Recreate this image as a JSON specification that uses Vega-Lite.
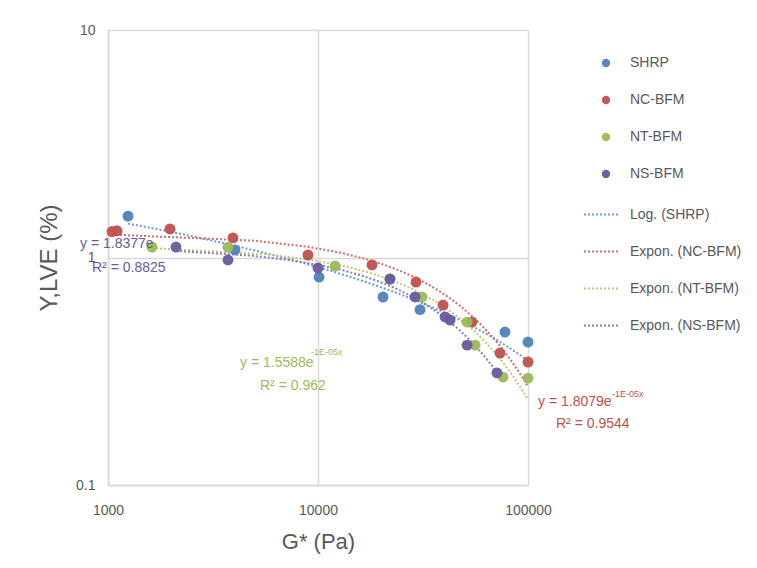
{
  "$schema": "https://vega.github.io/schema/vega-lite/v6.json",
  "width": 420,
  "height": 455,
  "autosize": "none",
  "padding": {"left": 108, "top": 30, "right": 229, "bottom": 83},
  "background": "white",
  "config": {"view": {"stroke": null}, "font": "Liberation Sans"},
  "datasets": {
    "points": [
      {"series": "SHRP", "trend": "Log. (SHRP)", "x": 1245, "y": 1.52},
      {"series": "SHRP", "trend": "Log. (SHRP)", "x": 4025, "y": 1.08},
      {"series": "SHRP", "trend": "Log. (SHRP)", "x": 10116, "y": 0.82},
      {"series": "SHRP", "trend": "Log. (SHRP)", "x": 20400, "y": 0.67},
      {"series": "SHRP", "trend": "Log. (SHRP)", "x": 30600, "y": 0.59},
      {"series": "SHRP", "trend": "Log. (SHRP)", "x": 77700, "y": 0.47},
      {"series": "SHRP", "trend": "Log. (SHRP)", "x": 100000, "y": 0.425},
      {"series": "NC-BFM", "trend": "Expon. (NC-BFM)", "x": 1045, "y": 1.3},
      {"series": "NC-BFM", "trend": "Expon. (NC-BFM)", "x": 1104, "y": 1.31},
      {"series": "NC-BFM", "trend": "Expon. (NC-BFM)", "x": 1973, "y": 1.335},
      {"series": "NC-BFM", "trend": "Expon. (NC-BFM)", "x": 3936, "y": 1.22},
      {"series": "NC-BFM", "trend": "Expon. (NC-BFM)", "x": 8960, "y": 1.025},
      {"series": "NC-BFM", "trend": "Expon. (NC-BFM)", "x": 18080, "y": 0.927},
      {"series": "NC-BFM", "trend": "Expon. (NC-BFM)", "x": 29290, "y": 0.78},
      {"series": "NC-BFM", "trend": "Expon. (NC-BFM)", "x": 39380, "y": 0.618},
      {"series": "NC-BFM", "trend": "Expon. (NC-BFM)", "x": 54100, "y": 0.52},
      {"series": "NC-BFM", "trend": "Expon. (NC-BFM)", "x": 73540, "y": 0.38},
      {"series": "NC-BFM", "trend": "Expon. (NC-BFM)", "x": 100000, "y": 0.347},
      {"series": "NT-BFM", "trend": "Expon. (NT-BFM)", "x": 1620, "y": 1.11},
      {"series": "NT-BFM", "trend": "Expon. (NT-BFM)", "x": 3727, "y": 1.11},
      {"series": "NT-BFM", "trend": "Expon. (NT-BFM)", "x": 12050, "y": 0.917},
      {"series": "NT-BFM", "trend": "Expon. (NT-BFM)", "x": 22020, "y": 0.804},
      {"series": "NT-BFM", "trend": "Expon. (NT-BFM)", "x": 31270, "y": 0.671},
      {"series": "NT-BFM", "trend": "Expon. (NT-BFM)", "x": 51260, "y": 0.52},
      {"series": "NT-BFM", "trend": "Expon. (NT-BFM)", "x": 55940, "y": 0.412},
      {"series": "NT-BFM", "trend": "Expon. (NT-BFM)", "x": 76060, "y": 0.298},
      {"series": "NT-BFM", "trend": "Expon. (NT-BFM)", "x": 100000, "y": 0.295},
      {"series": "NS-BFM", "trend": "Expon. (NS-BFM)", "x": 2107, "y": 1.112},
      {"series": "NS-BFM", "trend": "Expon. (NS-BFM)", "x": 3727, "y": 0.975},
      {"series": "NS-BFM", "trend": "Expon. (NS-BFM)", "x": 10000, "y": 0.899},
      {"series": "NS-BFM", "trend": "Expon. (NS-BFM)", "x": 22020, "y": 0.804},
      {"series": "NS-BFM", "trend": "Expon. (NS-BFM)", "x": 28970, "y": 0.671},
      {"series": "NS-BFM", "trend": "Expon. (NS-BFM)", "x": 40270, "y": 0.548},
      {"series": "NS-BFM", "trend": "Expon. (NS-BFM)", "x": 42540, "y": 0.531},
      {"series": "NS-BFM", "trend": "Expon. (NS-BFM)", "x": 51260, "y": 0.412},
      {"series": "NS-BFM", "trend": "Expon. (NS-BFM)", "x": 71190, "y": 0.311}
    ],
    "notes": [
      {"series": "NS-BFM", "note": "y = 1.8377e", "kind": "main", "x": 736, "y": 1.146},
      {"series": "NS-BFM", "note": "R² = 0.8825", "kind": "main", "x": 839, "y": 0.9},
      {"series": "NT-BFM", "note": "y = 1.5588e", "kind": "main", "x": 4253, "y": 0.344},
      {"series": "NT-BFM", "note": "-1E-05x", "kind": "sup", "x": 9262, "y": 0.384},
      {"series": "NT-BFM", "note": "R² = 0.962", "kind": "main", "x": 5294, "y": 0.272},
      {"series": "NC-BFM", "note": "y = 1.8079e", "kind": "main", "x": 111600, "y": 0.232},
      {"series": "NC-BFM", "note": "-1E-05x", "kind": "sup", "x": 251000, "y": 0.251},
      {"series": "NC-BFM", "note": "R² = 0.9544", "kind": "main", "x": 135900, "y": 0.185}
    ]
  },
  "data": {"name": "points"},
  "encoding": {
    "x": {
      "field": "x", "type": "quantitative",
      "scale": {"type": "log", "domain": [1000, 100000]},
      "axis": {
        "values": [1000, 10000, 100000], "format": "d", "ticks": false,
        "labelPadding": 18, "labelFont": "Liberation Sans", "labelFontSize": 14, "labelColor": "#595959",
        "labelFlush": false,
        "title": "G* (Pa)", "titleFont": "Liberation Sans", "titleFontSize": 22, "titleFontWeight": "normal",
        "titleColor": "#595959", "titlePadding": 14,
        "gridColor": "#d9d9d9", "gridWidth": 1.5, "domainColor": "#d9d9d9", "domainWidth": 1.5
      }
    },
    "y": {
      "field": "y", "type": "quantitative",
      "scale": {"type": "log", "domain": [0.1, 10]},
      "axis": {
        "values": [0.1, 1, 10], "format": "~g", "ticks": false,
        "labelPadding": 13, "labelFont": "Liberation Sans", "labelFontSize": 14, "labelColor": "#595959",
        "labelFlush": false,
        "title": "Y,LVE (%)", "titleFont": "Liberation Sans", "titleFontSize": 24, "titleFontWeight": "normal",
        "titleColor": "#595959", "titlePadding": 14,
        "gridColor": "#d9d9d9", "gridWidth": 1.5, "domainColor": "#d9d9d9", "domainWidth": 1.5
      }
    }
  },
  "layer": [
    {
      "transform": [
        {"filter": "datum.series === 'SHRP'"},
        {"regression": "y", "on": "x", "groupby": ["trend"], "method": "log"}
      ],
      "mark": {"type": "line", "strokeDash": [2, 2], "strokeWidth": 2, "clip": true},
      "encoding": {
        "stroke": {"field": "trend", "type": "nominal",
          "scale": {"domain": ["Log. (SHRP)", "Expon. (NC-BFM)", "Expon. (NT-BFM)", "Expon. (NS-BFM)"],
                    "range": ["#6C9AD6", "#D46A6A", "#B5CC78", "#8A7AB8"]},
          "legend": {
            "orient": "none", "legendX": 475, "legendY": 166, "title": null, "padding": 0,
            "symbolType": "stroke", "symbolSize": 1225, "symbolStrokeWidth": 2, "symbolDash": [2, 2],
            "rowPadding": 11, "labelOffset": 10,
            "labelFont": "Liberation Sans", "labelFontSize": 14, "labelColor": "#595959"
          }}
      }
    },
    {
      "transform": [
        {"filter": "datum.series !== 'SHRP'"},
        {"regression": "y", "on": "x", "groupby": ["trend"], "method": "exp"}
      ],
      "mark": {"type": "line", "strokeDash": [2, 2], "strokeWidth": 2, "clip": true},
      "encoding": {
        "stroke": {"field": "trend", "type": "nominal",
          "scale": {"domain": ["Log. (SHRP)", "Expon. (NC-BFM)", "Expon. (NT-BFM)", "Expon. (NS-BFM)"],
                    "range": ["#6C9AD6", "#D46A6A", "#B5CC78", "#8A7AB8"]},
          "legend": {
            "orient": "none", "legendX": 475, "legendY": 166, "title": null, "padding": 0,
            "symbolType": "stroke", "symbolSize": 1225, "symbolStrokeWidth": 2, "symbolDash": [2, 2],
            "rowPadding": 11, "labelOffset": 10,
            "labelFont": "Liberation Sans", "labelFontSize": 14, "labelColor": "#595959"
          }}
      }
    },
    {
      "mark": {"type": "circle", "size": 120, "opacity": 0.95},
      "encoding": {
        "fill": {"field": "series", "type": "nominal",
          "scale": {"domain": ["SHRP", "NC-BFM", "NT-BFM", "NS-BFM"],
                    "range": ["#4F81BD", "#C0504D", "#9BBB59", "#6A5A9E"]},
          "legend": {
            "orient": "none", "legendX": 491, "legendY": 26, "title": null, "padding": 0,
            "symbolType": "circle", "symbolSize": 70, "rowPadding": 23, "labelOffset": 17,
            "labelFont": "Liberation Sans", "labelFontSize": 14, "labelColor": "#595959"
          }
        }
      }
    },
    {
      "data": {"name": "notes"},
      "transform": [{"filter": "datum.kind === 'main'"}],
      "mark": {"type": "text", "align": "left", "baseline": "middle", "fontSize": 14, "font": "Liberation Sans"},
      "encoding": {
        "text": {"field": "note", "type": "nominal"},
        "fill": {"field": "series", "type": "nominal", "legend": null,
          "scale": {"domain": ["SHRP", "NC-BFM", "NT-BFM", "NS-BFM"],
                    "range": ["#4F81BD", "#C0504D", "#9BBB59", "#6A5A9E"]}}
      }
    },
    {
      "data": {"name": "notes"},
      "transform": [{"filter": "datum.kind === 'sup'"}],
      "mark": {"type": "text", "align": "left", "baseline": "middle", "fontSize": 9, "font": "Liberation Sans"},
      "encoding": {
        "text": {"field": "note", "type": "nominal"},
        "fill": {"field": "series", "type": "nominal", "legend": null,
          "scale": {"domain": ["SHRP", "NC-BFM", "NT-BFM", "NS-BFM"],
                    "range": ["#4F81BD", "#C0504D", "#9BBB59", "#6A5A9E"]}}
      }
    }
  ]
}
